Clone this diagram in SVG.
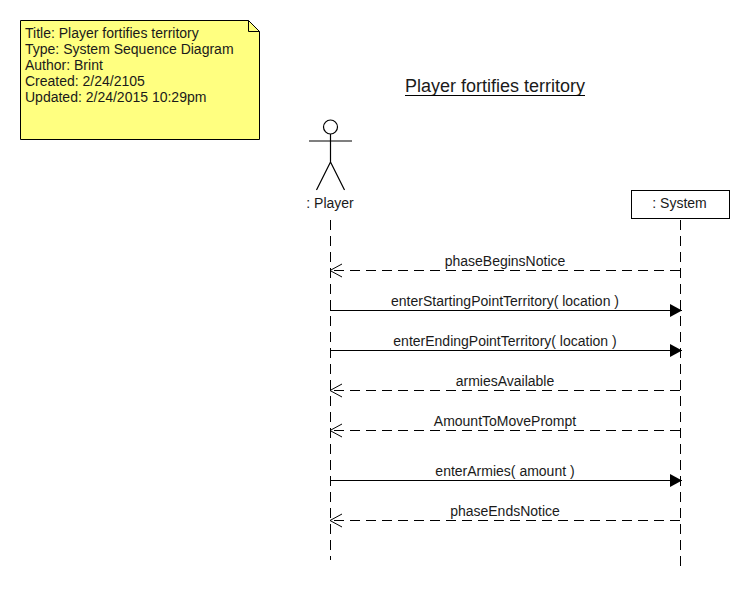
<svg xmlns="http://www.w3.org/2000/svg" width="750" height="610" viewBox="0 0 750 610">
<style>
text{font-family:"Liberation Sans",Arial,sans-serif;font-size:14px;fill:#1a1a1a}
.m{text-anchor:middle}
.l{fill:none;stroke:#000;stroke-width:1}
.d{stroke-dasharray:10 6}
.s{fill:none;stroke:#000;stroke-width:1.2}
</style>
<defs>
<marker id="open" markerUnits="userSpaceOnUse" markerWidth="14" markerHeight="14" refX="13" refY="7" orient="auto" overflow="visible"><path d="M1 0.500L13 7L1 13.500" fill="none" stroke="#000"/></marker>
<marker id="fill" markerUnits="userSpaceOnUse" markerWidth="13" markerHeight="14" refX="12" refY="6.5" orient="auto" overflow="visible"><path d="M0 0L12 6.5L0 13Z" fill="#000"/></marker>
</defs>
<rect width="750" height="610" fill="#fff"/>
<g id="note">
<path d="M20.500 20.500H248.500L259.500 31.500V139.500H20.500Z" fill="#ffff80" stroke="#000"/>
<path d="M248.500 20.500V31.500H259.500" fill="none" stroke="#000"/>
<text x="25" y="38">Title: Player fortifies territory</text>
<text x="25" y="54">Type: System Sequence Diagram</text>
<text x="25" y="70">Author: Brint</text>
<text x="25" y="86">Created: 2/24/2105</text>
<text x="25" y="102">Updated: 2/24/2015 10:29pm</text>
</g>
<g id="title">
<text x="495" y="92" class="m" style="font-size:18px">Player fortifies territory</text>
<line x1="405" y1="95.500" x2="585" y2="95.500" stroke="#000"/>
</g>
<g id="player">
<circle cx="330.500" cy="127" r="7" class="s"/>
<path d="M330.500 134V162M309 141H352M330.500 162L316.500 190M330.500 162L344.500 190" class="s"/>
<text x="330" y="208" class="m">: Player</text>
</g>
<g id="system">
<rect x="631.500" y="190.500" width="98" height="28" fill="#fff" stroke="#000"/>
<text x="679.500" y="208" class="m">: System</text>
</g>
<g id="connectors">
<line x1="330.500" y1="220" x2="330.500" y2="560" class="l d"/>
<line x1="680.500" y1="220" x2="680.500" y2="567" class="l d"/>
<line x1="680" y1="270.500" x2="330" y2="270.500" class="l d" marker-end="url(#open)"/>
<line x1="330" y1="310.500" x2="682" y2="310.500" class="l" marker-end="url(#fill)"/>
<line x1="330" y1="350.500" x2="682" y2="350.500" class="l" marker-end="url(#fill)"/>
<line x1="680" y1="390.500" x2="330" y2="390.500" class="l d" marker-end="url(#open)"/>
<line x1="680" y1="430.500" x2="330" y2="430.500" class="l d" marker-end="url(#open)"/>
<line x1="330" y1="480.500" x2="682" y2="480.500" class="l" marker-end="url(#fill)"/>
<line x1="680" y1="520.500" x2="330" y2="520.500" class="l d" marker-end="url(#open)"/>
<text x="505" y="266" class="m">phaseBeginsNotice</text>
<text x="505" y="306" class="m">enterStartingPointTerritory( location )</text>
<text x="505" y="346" class="m">enterEndingPointTerritory( location )</text>
<text x="505" y="386" class="m">armiesAvailable</text>
<text x="505" y="426" class="m">AmountToMovePrompt</text>
<text x="505" y="476" class="m">enterArmies( amount )</text>
<text x="505" y="516" class="m">phaseEndsNotice</text>
</g>
</svg>
